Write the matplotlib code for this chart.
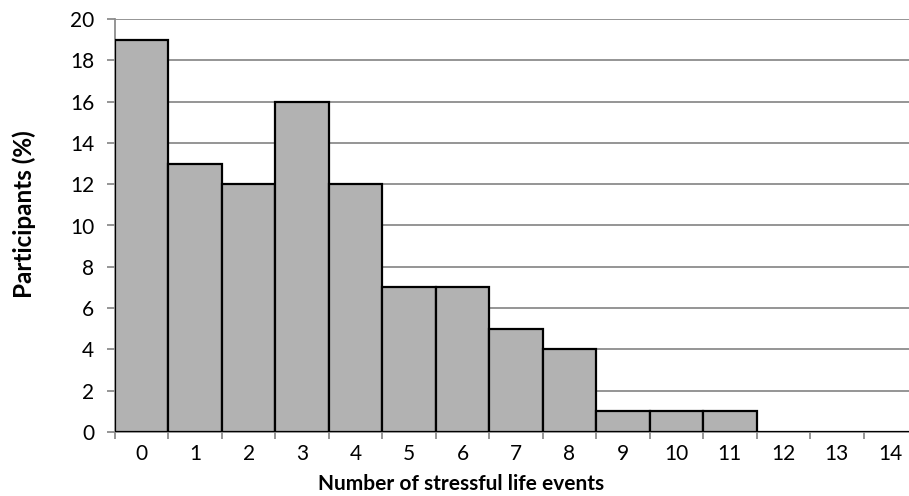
import numpy as np
import matplotlib.pyplot as plt

# number of stressful life events vs % participants
events = list(range(15))
percent = [19, 13, 12, 16, 12, 7, 7, 5, 4, 1, 1, 1, 0, 0, 0]

plt.rcParams['font.family'] = ['Lato', 'DejaVu Sans']

fig = plt.figure(figsize=(9.09, 4.96), dpi=100)
# plot area is cut off on the right in the original
ax = fig.add_axes([115 / 909, (496 - 432) / 496, (917 - 115) / 909, (432 - 19) / 496])

x = np.array(events)
ax.bar(x, percent, width=1.0, color='#b2b2b2', edgecolor='black', linewidth=1.6, zorder=3)

ax.set_xlim(-0.5, 14.5)
ax.set_ylim(0, 20)
ax.set_yticks(range(0, 21, 2))
ax.set_xticks(x)
ax.set_xticklabels([str(e) for e in events])
ax.set_xticks(np.arange(-0.5, 15, 1), minor=True)

ax.yaxis.grid(True, color='#8c8c8c', linewidth=1.3, zorder=0)
ax.set_axisbelow(True)

for s in ['top', 'right']:
    ax.spines[s].set_visible(False)
ax.spines['left'].set_color('#8c8c8c')
ax.spines['bottom'].set_color('#8c8c8c')
ax.spines['left'].set_linewidth(1.3)
ax.spines['bottom'].set_linewidth(1.3)

ax.tick_params(axis='x', which='major', length=0, labelsize=15, pad=9)
ax.tick_params(axis='x', which='minor', length=5, color='#8c8c8c', width=1.3)
ax.tick_params(axis='y', length=6, color='#8c8c8c', width=1.3, labelsize=15, pad=9)

ax.set_xlabel('Number of stressful life events', fontsize=15, fontweight='bold')
ax.set_ylabel('Participants (%)', fontsize=17.5, fontweight='bold')
ax.xaxis.set_label_coords(0.431, -0.102)
ax.yaxis.set_label_coords(-0.099, 0.528)

fig.savefig('out.png', dpi=100)
